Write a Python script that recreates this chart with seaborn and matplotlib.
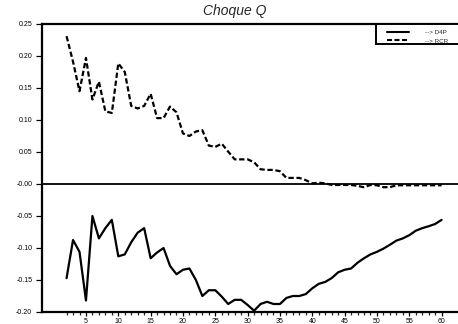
import numpy as np
import pandas as pd
import matplotlib
matplotlib.use("Agg")
import matplotlib.pyplot as plt
import seaborn as sns
from matplotlib.patches import Rectangle
from matplotlib.ticker import FixedLocator, FuncFormatter

# Impulse responses to the Q shock, periods 2..60
periods = list(range(2, 61))

d4p = [-0.147, -0.0875, -0.106, -0.182, -0.050, -0.085, -0.069, -0.056, -0.113, -0.110,
       -0.091, -0.076, -0.069, -0.116, -0.107, -0.100, -0.128, -0.141, -0.134, -0.132,
       -0.150, -0.175, -0.166, -0.166, -0.176, -0.1875, -0.181, -0.181, -0.189, -0.198,
       -0.1875, -0.184, -0.1875, -0.1875, -0.178, -0.175, -0.175, -0.172, -0.163, -0.156,
       -0.153, -0.147, -0.138, -0.134, -0.132, -0.123, -0.116, -0.110, -0.106, -0.101,
       -0.095, -0.0885, -0.085, -0.080, -0.073, -0.069, -0.066, -0.0625, -0.056]

rcr = [0.231, 0.191, 0.145, 0.197, 0.132, 0.160, 0.1135, 0.111, 0.1885, 0.175,
       0.122, 0.118, 0.122, 0.141, 0.103, 0.103, 0.121, 0.112, 0.079, 0.075,
       0.082, 0.084, 0.060, 0.058, 0.063, 0.0505, 0.0385, 0.0385, 0.0385, 0.034,
       0.023, 0.022, 0.022, 0.020, 0.0095, 0.0095, 0.0095, 0.006, 0.001, 0.002,
       0.001, -0.0015, -0.0015, -0.0015, -0.0015, -0.003, -0.005, -0.0015, -0.002, -0.005,
       -0.005, -0.002, -0.002, -0.002, -0.002, -0.002, -0.002, -0.002, -0.002]

series_labels = ["--> D4P", "--> RCR"]
title = "Choque Q"
ytick_values = [-0.20, -0.15, -0.10, -0.05, 0.0, 0.05, 0.10, 0.15, 0.20, 0.25]
xtick_values = list(range(5, 61, 5))

df = pd.DataFrame({
    "periodo": periods * 2,
    "valor": d4p + rcr,
    "serie": [series_labels[0]] * len(periods) + [series_labels[1]] * len(periods),
})

sns.set_style("ticks")
plt.rcParams["font.family"] = ["Liberation Sans", "DejaVu Sans"]

fig = plt.figure(figsize=(4.58, 3.24), dpi=100)
W, H = 458, 324
ax = fig.add_axes([42 / W, 12 / H, 419 / W, 288 / H])

dash = (2.4, 1.2)
sns.lineplot(data=df, x="periodo", y="valor", style="serie",
             dashes={series_labels[0]: "", series_labels[1]: dash},
             color="black", linewidth=1.6, ax=ax, legend=False)

ax.axhline(0, color="black", linewidth=1.3, zorder=1)

ax.set_xlim(-1.8, 63)
ax.set_ylim(-0.20, 0.25)
ax.set_xlabel("")
ax.set_ylabel("")

ax.yaxis.set_major_locator(FixedLocator(ytick_values))
ax.yaxis.set_major_formatter(FuncFormatter(lambda v, p: "-0.00" if abs(v) < 1e-9 else f"{v:.2f}"))
ax.xaxis.set_major_locator(FixedLocator(xtick_values))
ax.xaxis.set_minor_locator(FixedLocator(periods))
ax.tick_params(axis="y", direction="out", length=4.5, width=0.9, labelsize=5, pad=2.5,
               colors="black")
ax.tick_params(axis="x", which="major", direction="out", length=3, width=0.9,
               labelsize=5, pad=1.5, colors="black")
ax.tick_params(axis="x", which="minor", direction="out", length=2.2, width=0.9)

for side in ["left", "top", "bottom"]:
    ax.spines[side].set_linewidth(1.6)
    ax.spines[side].set_color("black")
ax.spines["right"].set_visible(False)

# legend box hanging from the top frame, running off the right edge
box_x0 = (376 - 42) / 419
box_h = 20 / 288
ax.add_patch(Rectangle((box_x0, 1 - box_h), 0.3, box_h, transform=ax.transAxes,
                       facecolor="white", edgecolor="black", linewidth=1.4,
                       clip_on=False, zorder=5))
handles = [plt.Line2D([], [], color="black", linewidth=1.5),
           plt.Line2D([], [], color="black", linewidth=1.5, dashes=dash)]
leg = ax.legend(handles, series_labels, loc="upper left",
                bbox_to_anchor=((384 - 42) / 419, 1.0 - 2.5 / 288), borderaxespad=0,
                fontsize=4.5, frameon=False, handlelength=3.4,
                handletextpad=2.6, borderpad=0.55, labelspacing=0.45)
leg.set_zorder(6)

fig.text(235 / W, 1 - 11 / H, title, ha="center", va="center",
         fontsize=10, style="italic")

fig.savefig("out.png", dpi=100)
